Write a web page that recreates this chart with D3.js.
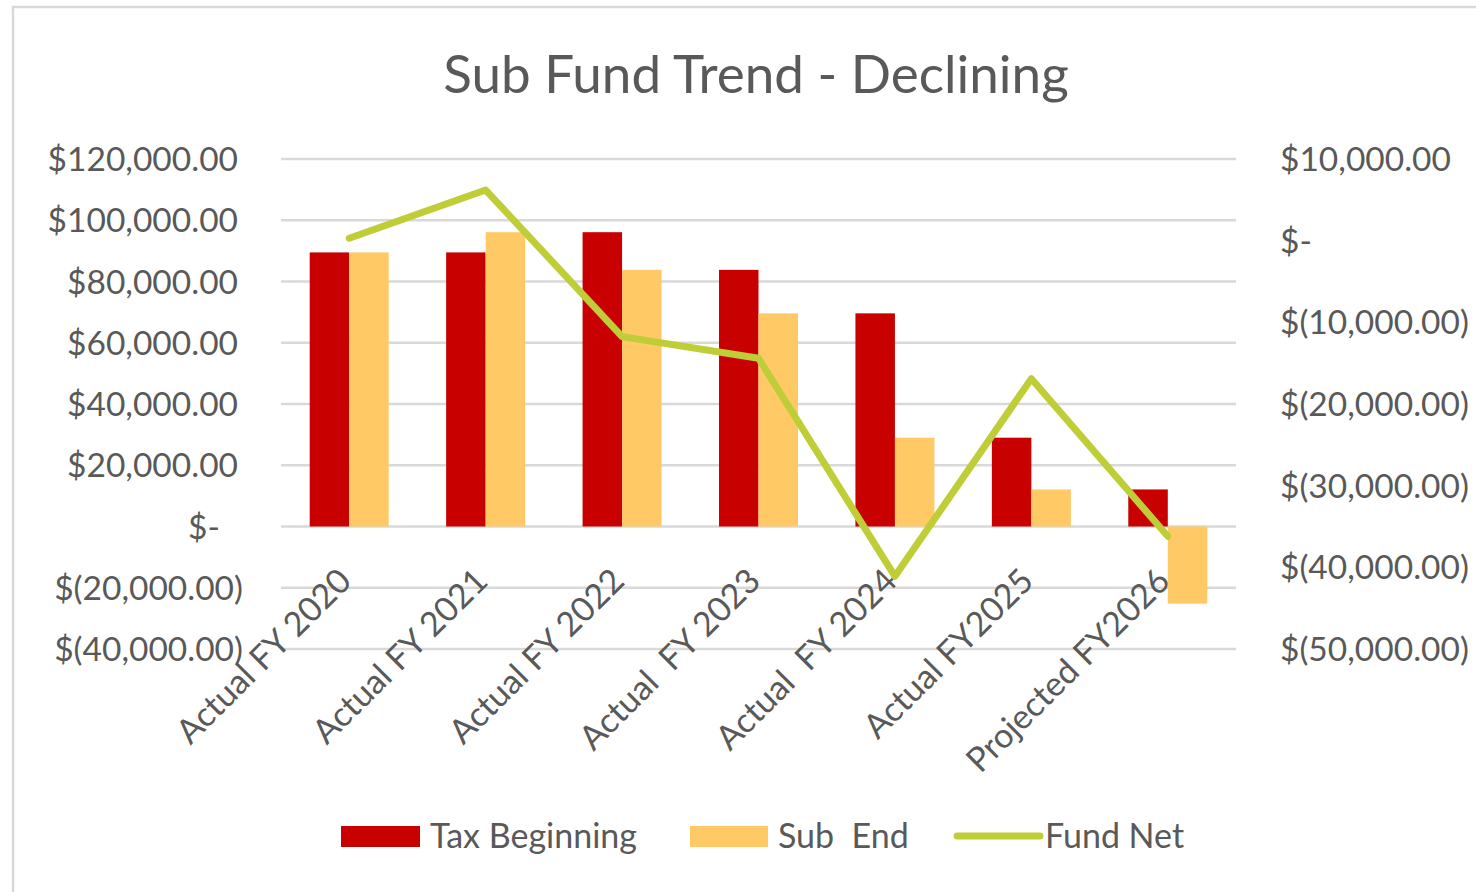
<!DOCTYPE html>
<html>
<head>
<meta charset="utf-8">
<script src="https://cdn.jsdelivr.net/npm/d3@7"></script>
<style>
  html, body { margin: 0; padding: 0; background: #fff; }
  svg { display: block; }
  text { font-family: Lato, "Open Sans", sans-serif; fill: #595959; white-space: pre; }
</style>
</head>
<body>
<div id="chart"></div>
<script>
// ------------------------------------------------------------------
// Data

const categories = ['Actual FY 2020', 'Actual FY 2021', 'Actual FY 2022', 'Actual  FY 2023',
  'Actual  FY 2024', 'Actual FY2025', 'Projected FY2026'];
const taxBeginning = [89500, 89500, 96100, 83800, 69600, 29000, 12100];
const subEnd = [89500, 96100, 83800, 69600, 29000, 12100, -25200];
const fundNet = [300, 6200, -11750, -14400, -41100, -16900, -36200];
const leftTicks = [120000, 100000, 80000, 60000, 40000, 20000, 0, -20000, -40000];
const rightTicks = [10000, 0, -10000, -20000, -30000, -40000, -50000];
const seriesNames = ['Tax Beginning', 'Sub  End', 'Fund Net'];
const colors = ['#c80000', '#ffc966', '#bfcd37'];

// ------------------------------------------------------------------
// Layout

const width = 1476;
const height = 892;
const plot = {left: 281, right: 1236, top: 159, bottom: 649};

const svg = d3.select('#chart').append('svg')
  .attr('width', width)
  .attr('height', height);

// chart frame (cropped on right and bottom)
svg.append('rect')
  .attr('x', 13).attr('y', 7)
  .attr('width', 1600).attr('height', 1000)
  .attr('fill', 'none')
  .attr('stroke', '#d9d9d9')
  .attr('stroke-width', 2.5);

const x = d3.scaleBand()
  .domain(categories)
  .range([plot.left, plot.right]);

const groupWidth = 79;
const xInner = d3.scaleBand()
  .domain([0, 1])
  .range([(x.bandwidth() - groupWidth) / 2, (x.bandwidth() + groupWidth) / 2]);

const yLeft = d3.scaleLinear()
  .domain([-40000, 120000])
  .range([plot.bottom, plot.top]);

const yRight = d3.scaleLinear()
  .domain([-50000, 10000])
  .range([plot.bottom, plot.top]);

const money = d3.format(',.2f');
function accounting(v) {
  if (v === 0) return '$-';
  return v < 0 ? `$(${money(-v)})` : `$${money(v)}`;
}

// title
svg.append('text')
  .attr('x', 756)
  .attr('y', 93)
  .attr('text-anchor', 'middle')
  .style('font-size', '53px')
  .text('Sub Fund Trend - Declining');

// gridlines
svg.append('g')
  .selectAll('line')
  .data(leftTicks)
  .enter().append('line')
  .attr('x1', plot.left).attr('x2', plot.right)
  .attr('y1', d => yLeft(d)).attr('y2', d => yLeft(d))
  .attr('stroke', '#d9d9d9')
  .attr('stroke-width', 2.5);

// left axis labels
svg.append('g')
  .selectAll('text')
  .data(leftTicks)
  .enter().append('text')
  .attr('x', d => d < 0 ? 243 : (d === 0 ? 220 : 238))
  .attr('y', d => yLeft(d))
  .attr('dy', '0.36em')
  .attr('text-anchor', 'end')
  .style('font-size', '33.5px')
  .text(accounting);

// right axis labels
svg.append('g')
  .selectAll('text')
  .data(rightTicks)
  .enter().append('text')
  .attr('x', 1280)
  .attr('y', d => yRight(d))
  .attr('dy', '0.36em')
  .attr('text-anchor', 'start')
  .style('font-size', '33.5px')
  .text(accounting);

// bars
const bars = svg.append('g');
[taxBeginning, subEnd].forEach((series, i) => {
  bars.selectAll(null)
    .data(series)
    .enter().append('rect')
    .attr('x', (d, j) => x(categories[j]) + xInner(i))
    .attr('width', xInner.bandwidth())
    .attr('y', d => yLeft(Math.max(0, d)))
    .attr('height', d => Math.abs(yLeft(d) - yLeft(0)))
    .attr('fill', colors[i]);
});

// category labels
svg.append('g')
  .selectAll('text')
  .data(categories)
  .enter().append('text')
  .attr('transform', d => `translate(${x(d) + x.bandwidth() / 2 + 4},${583}) rotate(-45)`)
  .attr('text-anchor', 'end')
  .style('font-size', '34px')
  .text(d => d);

// fund net line
const line = d3.line()
  .x((d, i) => x(categories[i]) + x.bandwidth() / 2)
  .y(d => yRight(d));

svg.append('path')
  .datum(fundNet)
  .attr('d', line)
  .attr('fill', 'none')
  .attr('stroke', colors[2])
  .attr('stroke-width', 7)
  .attr('stroke-linejoin', 'round')
  .attr('stroke-linecap', 'round');

// legend
const legend = svg.append('g');
const legendItems = [
  {x: 341, w: 79, label: 0},
  {x: 690, w: 78, label: 1},
  {x: 957, w: 83, label: 2}
];
legendItems.forEach(item => {
  if (item.label < 2) {
    legend.append('rect')
      .attr('x', item.x).attr('y', 826)
      .attr('width', item.w).attr('height', 21)
      .attr('fill', colors[item.label]);
  } else {
    legend.append('line')
      .attr('x1', item.x).attr('x2', item.x + item.w)
      .attr('y1', 836).attr('y2', 836)
      .attr('stroke', colors[2])
      .attr('stroke-width', 7)
      .attr('stroke-linecap', 'round');
  }
  legend.append('text')
    .attr('x', item.x + item.w + (item.label < 2 ? 10 : 5))
    .attr('y', 836)
    .attr('dy', '0.36em')
    .style('font-size', '34px')
    .text(seriesNames[item.label]);
});
</script>
</body>
</html>
